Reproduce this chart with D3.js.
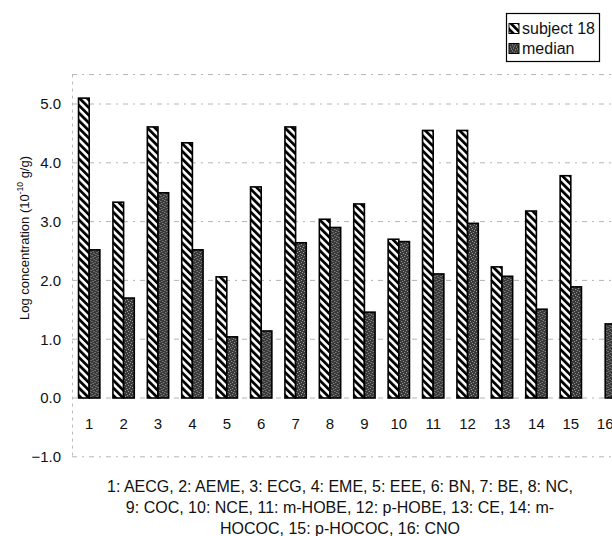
<!DOCTYPE html>
<html>
<head>
<meta charset="utf-8">
<script src="https://cdn.jsdelivr.net/npm/d3@7/dist/d3.min.js"></script>
<style>
    body { margin: 0; background: #fff; }
    svg { display: block; font-family: "Liberation Sans", Arial, sans-serif; }
</style>
</head>
<body>
<div id="chart"></div>
<script>

// chart data
var categories   = ['1','2','3','4','5','6','7','8','9','10','11','12','13','14','15','16'];
var seriesNames  = ['subject 18', 'median'];
var subjectVals  = [5.10, 3.33, 4.61, 4.34, 2.06, 3.59, 4.61, 3.04, 3.30, 2.70, 4.55, 4.55, 2.23, 3.18, 3.78, 0];
var medianVals   = [2.52, 1.70, 3.49, 2.52, 1.04, 1.14, 2.64, 2.90, 1.46, 2.66, 2.11, 2.97, 2.07, 1.51, 1.89, 1.26];
var yTicks       = [-1, 0, 1, 2, 3, 4, 5];
var captionLines = [
    '1: AECG, 2: AEME, 3: ECG, 4: EME, 5: EEE, 6: BN, 7: BE, 8: NC,',
    '9: COC, 10: NCE, 11: m-HOBE, 12: p-HOBE, 13: CE, 14: m-',
    'HOCOC, 15: p-HOCOC, 16: CNO'
];

const W = 612, H = 536;

var svg = d3.select('#chart').append('svg')
    .attr('width', W)
    .attr('height', H);

// fill patterns: hatched for subject, stippled grey for median
var defs = svg.append('defs');

var hatch = defs.append('pattern')
    .attr('id', 'hatch')
    .attr('patternUnits', 'userSpaceOnUse')
    .attr('width', 5.4)
    .attr('height', 5.4)
    .attr('patternTransform', 'rotate(-45)');
hatch.append('rect').attr('width', 5.4).attr('height', 5.4).attr('fill', '#fff');
hatch.append('rect').attr('width', 2.8).attr('height', 5.4).attr('fill', '#000');

var stipple = defs.append('pattern')
    .attr('id', 'stipple')
    .attr('patternUnits', 'userSpaceOnUse')
    .attr('width', 6)
    .attr('height', 6);
stipple.append('rect').attr('width', 6).attr('height', 6).attr('fill', '#383838');
[[0,0],[3,1],[1,3],[4,4],[5,2],[2,5]].forEach(function(p) {
    stipple.append('rect')
        .attr('x', p[0]).attr('y', p[1])
        .attr('width', 1).attr('height', 1)
        .attr('fill', '#a0a0a0');
});

// scales
var x = d3.scaleBand()
    .domain(categories)
    .range([72, 622.4])
    .paddingInner(0.38)
    .paddingOuter(0.19);

var xSub = d3.scaleBand()
    .domain(seriesNames)
    .range([0, x.bandwidth()]);

var y = d3.scaleLinear()
    .domain([-1, 5.5])
    .range([456.8, 74.6]);

// dashed grid lines (faint, as in the scan)
var grid = svg.append('g').attr('class', 'grid');
grid.selectAll('line.h')
    .data(yTicks.concat([5.5]))
    .enter().append('line')
    .attr('class', 'h')
    .attr('x1', 72).attr('x2', W)
    .attr('y1', function(d) { return y(d); })
    .attr('y2', function(d) { return y(d); })
    .attr('stroke', '#b4b4b4')
    .attr('stroke-width', 1)
    .attr('stroke-dasharray', '5,5,2,5');
grid.append('line')
    .attr('x1', 72.5).attr('x2', 72.5)
    .attr('y1', y(5.5)).attr('y2', y(-1))
    .attr('stroke', '#bbbbbb')
    .attr('stroke-dasharray', '3,4');

// y axis labels, no axis line
var yAxis = d3.axisLeft(y)
    .tickValues(yTicks)
    .tickFormat(d3.format('.1f'))
    .tickSize(0)
    .tickPadding(0);
svg.append('g')
    .attr('transform', 'translate(61,0)')
    .call(yAxis)
    .call(function(g) { g.select('.domain').remove(); })
    .selectAll('text')
    .attr('font-size', 15)
    .attr('font-family', '"Liberation Sans", Arial, sans-serif')
    .attr('fill', '#111');

// y axis title
var yTitle = svg.append('text')
    .attr('transform', 'translate(29,238) rotate(-90)')
    .attr('text-anchor', 'middle')
    .attr('font-size', 13)
    .attr('fill', '#111');
yTitle.append('tspan').text('Log concentration (10');
yTitle.append('tspan').attr('font-size', 8.5).attr('dy', -6).text('-10');
yTitle.append('tspan').attr('dy', 6).text(' g/g)');

// category labels below the zero line
var xAxis = d3.axisBottom(x).tickSize(0).tickPadding(0);
svg.append('g')
    .attr('transform', 'translate(0,418)')
    .call(xAxis)
    .call(function(g) { g.select('.domain').remove(); })
    .selectAll('text')
    .attr('font-size', 15)
    .attr('font-family', '"Liberation Sans", Arial, sans-serif')
    .attr('fill', '#111');

// bars
var rows = categories.map(function(c, i) {
    return { cat: c, vals: [subjectVals[i], medianVals[i]] };
});
var fills = { 'subject 18': 'url(#hatch)', 'median': 'url(#stipple)' };

var groups = svg.append('g').selectAll('g')
    .data(rows)
    .enter().append('g')
    .attr('transform', function(d) { return 'translate(' + x(d.cat) + ',0)'; });

groups.selectAll('rect')
    .data(function(d) {
        return seriesNames.map(function(s, k) { return { key: s, v: d.vals[k] }; });
    })
    .enter().filter(function(d) { return d.v > 0; })
    .append('rect')
    .attr('x', function(d) { return xSub(d.key); })
    .attr('width', xSub.bandwidth())
    .attr('y', function(d) { return y(d.v); })
    .attr('height', function(d) { return y(0) - y(d.v); })
    .attr('fill', function(d) { return fills[d.key]; })
    .attr('stroke', '#000')
    .attr('stroke-width', 1.6);

// legend box, top right
var legend = svg.append('g').attr('transform', 'translate(506.5,13.5)');
legend.append('rect')
    .attr('x', 0).attr('y', 0)
    .attr('width', 93).attr('height', 48)
    .attr('fill', '#fff')
    .attr('stroke', '#000')
    .attr('stroke-width', 1.2);
seriesNames.forEach(function(s, i) {
    var row = legend.append('g').attr('transform', 'translate(2.5,' + (10 + i * 20) + ')');
    row.append('rect')
        .attr('width', 10).attr('height', 10)
        .attr('fill', fills[s])
        .attr('stroke', '#000')
        .attr('stroke-width', 1);
    row.append('text')
        .attr('x', 13).attr('y', 10.5)
        .attr('font-size', 16)
        .attr('fill', '#111')
        .text(s);
});

// compound key under the chart
svg.append('g').selectAll('text')
    .data(captionLines)
    .enter().append('text')
    .attr('x', 340)
    .attr('y', function(d, i) { return 492 + i * 21; })
    .attr('text-anchor', 'middle')
    .attr('font-size', 16)
    .attr('fill', '#111')
    .text(function(d) { return d; });

</script>
</body>
</html>
